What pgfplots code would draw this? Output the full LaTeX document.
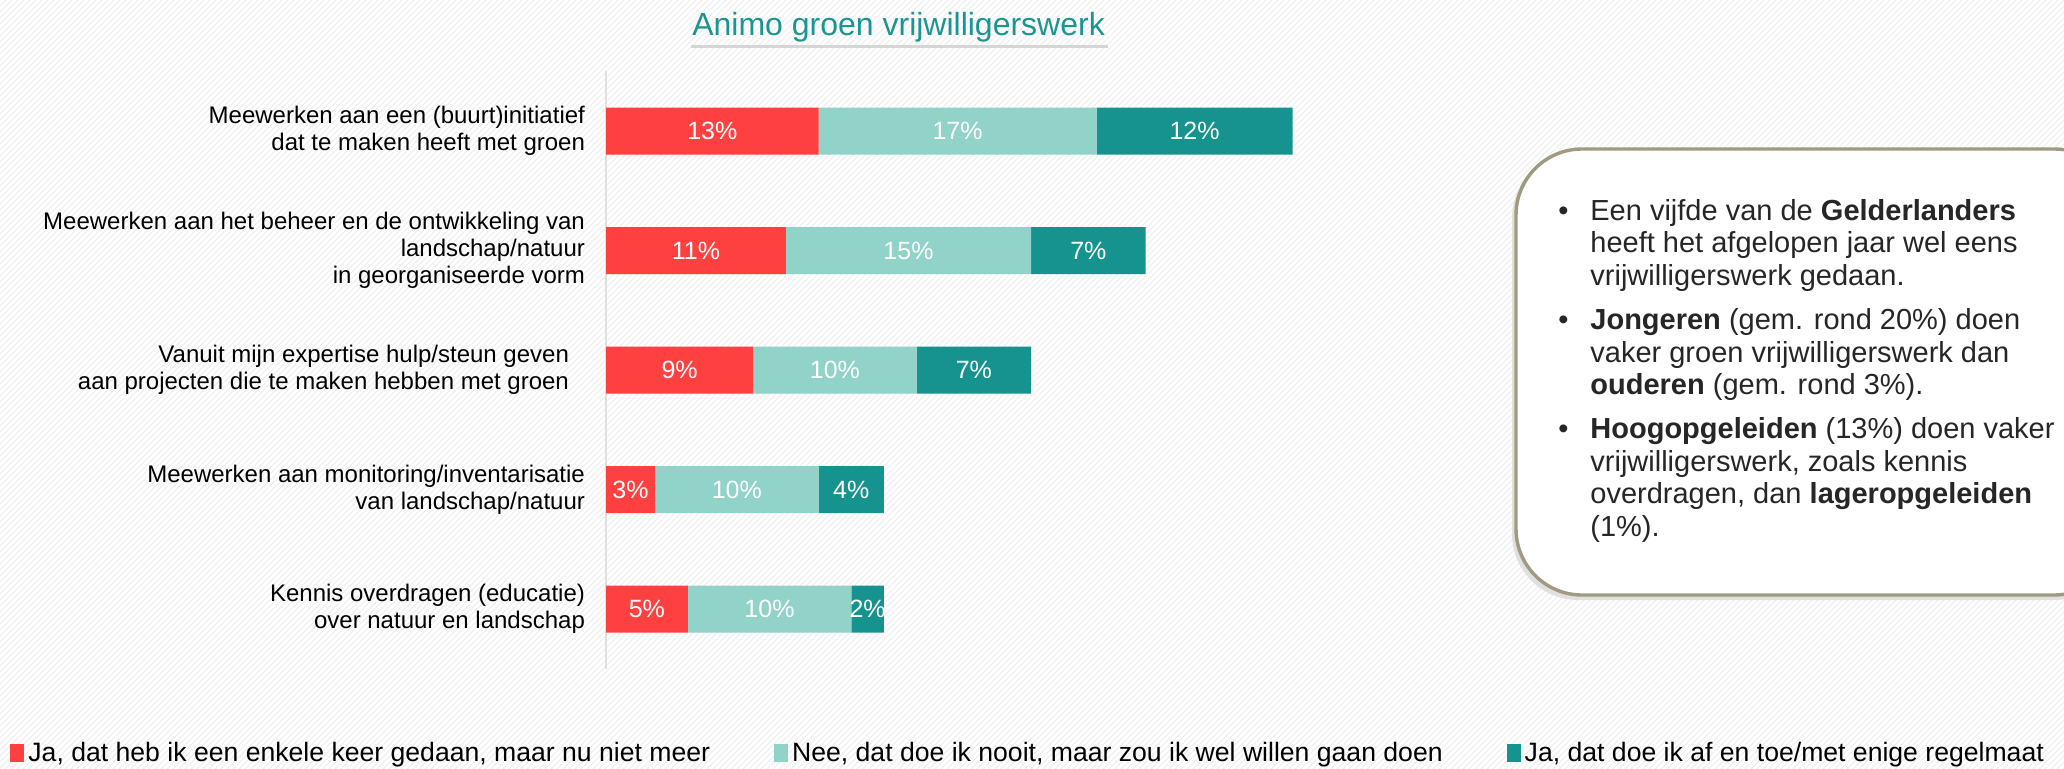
\documentclass[border=0pt]{standalone}
\usepackage{fontspec}
\setmainfont{Liberation Sans}
\usepackage{pgfplots}
\pgfplotsset{compat=1.18}
\usepackage{pgfplotstable}
\usetikzlibrary{patterns}

\definecolor{jared}{HTML}{FF4040}
\definecolor{neelight}{HTML}{91D3C9}
\definecolor{jadark}{HTML}{17938F}
\definecolor{titleteal}{HTML}{1A9591}
\definecolor{boxline}{HTML}{A09A80}

% rows from bottom (0) to top (4)
\pgfplotstableread{
pos a b c
4 13 17 12
3 11 15 7
2 9 10 7
1 3 10 4
0 5 10 2
}\animo

\begin{document}
\begin{tikzpicture}
\useasboundingbox (0,0) rectangle (1032pt,384pt);
\fill[white] (0,0) rectangle (1032pt,384pt);
\fill[pattern=north east lines, pattern color=black!7] (0,0) rectangle (1032pt,384pt);

% title
\node[anchor=base, text=titleteal, font=\fontsize{16}{19}\selectfont] at (449.3pt,366.5pt) {Animo groen vrijwilligerswerk};
\draw[black!16, line width=1.5pt] (345.5pt,361pt) -- (554pt,361pt);

\begin{axis}[
    at={(303pt,49.6pt)}, anchor=south west,
    scale only axis, width=408.75pt, height=298.75pt,
    xbar stacked, bar width=23.5pt,
    xmin=0, xmax=50, ymin=-0.5, ymax=4.5,
    axis x line=none, axis y line*=left,
    y axis line style={draw=black!12, line width=1pt},
    ytick={0,...,4}, major tick length=0pt,
    yticklabels={
        {Kennis overdragen (educatie)\\over natuur en landschap},
        {Meewerken aan monitoring/inventarisatie\\van landschap/natuur},
        {Vanuit mijn expertise hulp/steun geven\hspace*{8pt}\\aan projecten die te maken hebben met groen\hspace*{8pt}},
        {Meewerken aan het beheer en de ontwikkeling van\\landschap/natuur\\in georganiseerde vorm},
        {Meewerken aan een (buurt)initiatief\\dat te maken heeft met groen}},
    yticklabel style={align=right, font=\fontsize{12}{13.6}\selectfont, xshift=-7pt},
    /pgf/number format/assume math mode=true,
    point meta=explicit,
    nodes near coords={\pgfmathprintnumber{\pgfplotspointmeta}\%},
    every node near coord/.append style={anchor=center, text=white,
        font=\fontsize{12.5}{13}\selectfont},
    legend image code/.code={\fill[#1] (0pt,-4.5pt) rectangle (7pt,4.5pt);},
    legend columns=3, legend cell align=left,
    legend style={at={(axis description cs:-0.729,-0.141)}, anchor=west,
        draw=none, fill=none, inner sep=0pt,
        font=\fontsize{13.3}{15}\selectfont,
        /tikz/every even column/.append style={column sep=30pt}},
]
\addplot[fill=jared, draw=none] table[x=a, y=pos, meta=a] {\animo};
\addlegendentry{Ja, dat heb ik een enkele keer gedaan, maar nu niet meer}
\addplot[fill=neelight, draw=none] table[x=b, y=pos, meta=b] {\animo};
\addlegendentry{Nee, dat doe ik nooit, maar zou ik wel willen gaan doen}
\addplot[fill=jadark, draw=none] table[x=c, y=pos, meta=c] {\animo};
\addlegendentry{Ja, dat doe ik af en toe/met enige regelmaat}
\end{axis}

% callout with a faint shadow
\fill[black!12, rounded corners=33pt] (756pt,84pt) rectangle (1060pt,308pt);
\draw[boxline, line width=1.7pt, fill=white, rounded corners=33pt]
    (758pt,86.5pt) rectangle (1060pt,309.5pt);
\node[anchor=north west, align=left, inner sep=0pt, text=black!85,
      font=\fontsize{14.5}{16.2}\selectfont] at (795pt,284.5pt) {%
\llap{\textbullet\hspace{11pt}}Een vijfde van de \textbf{Gelderlanders}\\
heeft het afgelopen jaar wel eens\\
vrijwilligerswerk gedaan.\\[6pt]
\llap{\textbullet\hspace{11pt}}\textbf{Jongeren} (gem. rond 20\%) doen\\
vaker groen vrijwilligerswerk dan\\
\textbf{ouderen} (gem. rond 3\%).\\[6pt]
\llap{\textbullet\hspace{11pt}}\textbf{Hoogopgeleiden} (13\%) doen vaker\\
vrijwilligerswerk, zoals kennis\\
overdragen, dan \textbf{lageropgeleiden}\\
(1\%).};
\end{tikzpicture}
\end{document}
